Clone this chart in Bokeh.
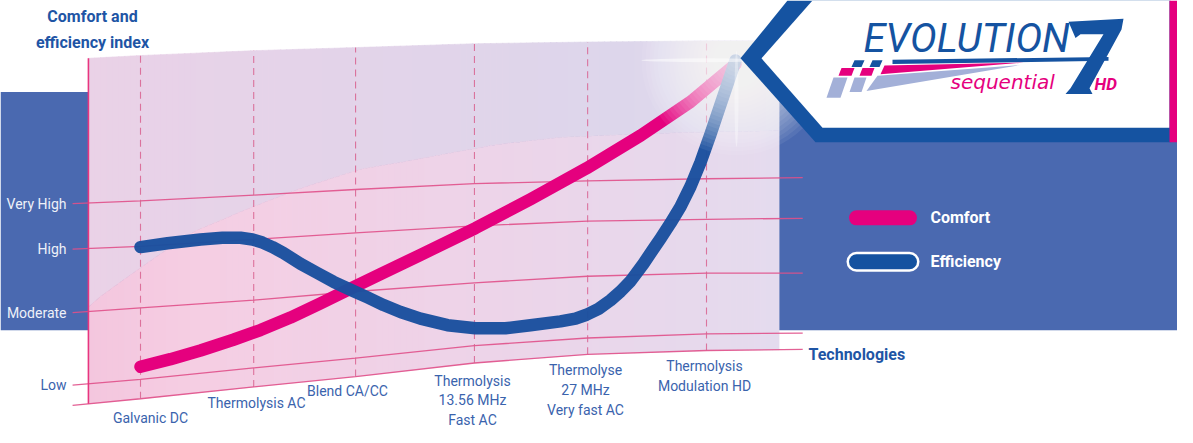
import numpy as np
from bokeh.plotting import figure
from bokeh.models import Range1d
from bokeh.core.properties import value
from bokeh.embed import file_html
from bokeh.resources import INLINE

# ---------------- data ----------------
technologies = ["Galvanic DC", "Thermolysis AC", "Blend CA/CC",
                "Thermolysis\n13.56 MHz\nFast AC",
                "Thermolyse\n27 MHz\nVery fast AC",
                "Thermolysis\nModulation HD"]
tech_x = [0.0, 1.0, 1.9, 2.95, 3.95, 5.0]

levels = ["Low", "Moderate", "High", "Very High"]
level_index = [5.8, 26.7, 45.0, 58.1]

comfort_x = [0.0, 0.265, 0.53, 0.82, 1.06, 1.325, 1.59, 1.855, 2.12, 2.47,
             2.96, 3.445, 3.94, 4.42, 4.86, 5.256]
comfort_y = [11.1, 13.3, 15.8, 18.9, 21.7, 25.3, 29.4, 33.6, 37.8, 43.3,
             51.1, 59.4, 68.3, 77.8, 87.5, 98.3]

efficiency_x = [0.0, 0.239, 0.53, 0.724, 0.883, 0.989, 1.078, 1.166, 1.263, 1.413,
                1.564, 1.705, 1.855, 2.005, 2.147, 2.297, 2.473, 2.712, 2.959, 3.224,
                3.445, 3.71, 3.843, 3.94, 4.046, 4.152, 4.24, 4.329, 4.443, 4.523,
                4.594, 4.682, 4.77, 4.859, 4.947, 5.035, 5.124, 5.256]
efficiency_y = [45.6, 46.7, 47.8, 48.3, 48.3, 47.8, 46.9, 45.6, 43.9, 40.8,
                38.1, 35.6, 33.3, 31.1, 28.9, 26.9, 25.0, 23.1, 22.2, 22.2,
                23.1, 24.2, 25.0, 26.1, 27.8, 30.3, 32.8, 35.8, 40.8, 44.7,
                48.1, 52.5, 57.2, 63.1, 70.0, 78.1, 86.7, 99.4]

# perspective grid: index value of each level line along the technology axis
grid_t = [-0.6, 0.0, 1.0, 1.9, 2.95, 3.95, 5.0, 5.85]
grid_lines = [
    [0.0, 1.9, 5.3, 8.3, 12.2, 14.7, 15.8, 16.1],       # technologies axis
    [5.8, 7.5, 10.8, 13.6, 17.2, 19.4, 20.6, 20.8],     # Low
    [26.7, 28.1, 30.3, 32.8, 35.3, 37.2, 38.1, 38.1],   # Moderate
    [45.0, 45.8, 47.8, 49.7, 51.7, 53.1, 53.6, 53.9],   # High
    [58.1, 58.9, 60.6, 62.2, 63.9, 64.7, 65.3, 65.6],   # Very High
]
panel_top_t = [-0.46, 0.0, 1.0, 1.9, 2.95, 3.95, 5.0, 5.65]
panel_top_v = [100.0, 100.8, 102.2, 103.1, 104.2, 104.7, 105.0, 105.0]

# ---------------- figure ----------------
W, H = 1177, 427
# default ranges: design space of the artwork (decoration)
p = figure(width=W, height=H, x_range=Range1d(0, 1177), y_range=Range1d(443, 0),
           output_backend="svg", toolbar_location=None, min_border=0,
           x_axis_location=None, y_axis_location=None)
p.grid.visible = False
p.outline_line_color = None
p.background_fill_color = "white"
p.border_fill_color = "white"

PX0, PXS = 140.0, 113.2     # technology scale
PY0, PYS = 420.0, 3.6       # index scale
p.extra_x_ranges = {"tech": Range1d((0 - PX0) / PXS, (1177 - PX0) / PXS)}
p.extra_y_ranges = {"idx": Range1d((PY0 - 443) / PYS, (PY0 - 0) / PYS)}
D = dict(x_range_name="tech", y_range_name="idx")

def t2px(t):
    return PX0 + PXS * np.asarray(t, dtype=float)

def v2py(v):
    return PY0 - PYS * np.asarray(v, dtype=float)

BAND = "#4a69b0"
PINK = "#e5007e"
BLUE = "#1a4f9e"
DEEP = "#1553a1"
LABEL = "#3a63ad"
FONT = value("Roboto")

# blue band
p.quad(left=[0], right=[1193], top=[95], bottom=[342], fill_color=BAND, line_color=None)

# ---------------- panel with gradient ----------------
tp_x = t2px(panel_top_t); tp_y = v2py(panel_top_v)
bt_x = t2px(grid_t); bt_y = v2py(grid_lines[0])
arc_x = [88, 100, 150, 193, 250, 300, 360, 400, 493, 560, 680, 780]
arc_y = [318, 307, 270, 240, 215, 195, 175, 168, 150, 142, 137, 135]

def lerp_color(x, stops):
    xs = [s[0] for s in stops]
    c = [int(round(np.interp(x, xs, [s[1][k] for s in stops]))) for k in range(3)]
    return "#%02x%02x%02x" % tuple(c)

up_stops = [(88, (234, 210, 231)), (300, (228, 211, 233)), (620, (221, 214, 235)), (780, (226, 221, 239))]
lo_stops = [(88, (244, 198, 222)), (200, (245, 206, 227)), (450, (238, 211, 232)), (780, (228, 219, 238))]

edges = np.arange(88, 781, 6.0)
xs_u, ys_u, cs_u, xs_l, ys_l, cs_l = [], [], [], [], [], []
for a, b in zip(edges[:-1], edges[1:]):
    b2 = min(b + 0.6, 780)
    ta, tb = np.interp([a, b2], tp_x, tp_y)
    aa, ab = np.interp([a, b2], arc_x, arc_y)
    ba, bb = np.interp([a, b2], bt_x, bt_y)
    m = 0.5 * (a + b)
    xs_u.append([a, b2, b2, a]); ys_u.append([ta, tb, ab, aa]); cs_u.append(lerp_color(m, up_stops))
    xs_l.append([a, b2, b2, a]); ys_l.append([aa, ab, bb, ba]); cs_l.append(lerp_color(m, lo_stops))
p.patches(xs_u, ys_u, fill_color=cs_u, line_color=cs_u, line_width=0.6)
p.patches(xs_l, ys_l, fill_color=cs_l, line_color=cs_l, line_width=0.6)

# ---------------- grid ----------------
for g in grid_lines:
    p.line(grid_t, g, line_color="#e0508a", line_width=1.3, line_alpha=0.9, **D)

y_bot = np.interp(tech_x, grid_t, grid_lines[0])
y_top = np.interp(tech_x, panel_top_t, panel_top_v)
p.segment(x0=tech_x, y0=list(y_bot), x1=tech_x, y1=list(y_top),
          line_color="#d8628f", line_width=1.1, line_dash="7 5", line_alpha=0.85, **D)
# index axis
ax_t = panel_top_t[0]
p.segment(x0=[ax_t], y0=[float(np.interp(ax_t, grid_t, grid_lines[0]))], x1=[ax_t], y1=[panel_top_v[0]],
          line_color="#e8357f", line_width=1.6, **D)

# ---------------- series ----------------
p.line(comfort_x, comfort_y, line_color=PINK, line_width=12.5, line_cap="round", line_join="round", **D)
p.line(efficiency_x, efficiency_y, line_color=BLUE, line_width=12.5, line_cap="round", line_join="round",
       line_alpha=0.97, **D)

# glow where both curves meet
gx, gy = 736, 62
for r in np.linspace(95, 4, 24):
    p.circle(x=[gx], y=[gy], radius=float(r), fill_color="white", fill_alpha=0.065, line_color=None)
p.ellipse(x=[gx - 30], y=[gy], width=130, height=4, fill_color="white", fill_alpha=0.5, line_color=None)
p.ellipse(x=[gx], y=[gy + 40], width=4, height=100, fill_color="white", fill_alpha=0.35, line_color=None)

# ---------------- logo box ----------------
p.patch([787, 740, 815, 1170, 1170], [0, 60, 147, 147, 0], fill_color=DEEP, line_color=None)
p.patch([812, 761, 822, 1169, 1169], [0, 60, 132, 132, 0], fill_color="white", line_color=None)
p.quad(left=[1169], right=[1185], top=[0], bottom=[147], fill_color=PINK, line_color=None)

# speed stripes
p.patch([892, 1108, 1108, 892], [61.5, 58.5, 62.5, 66], fill_color=DEEP, line_color=None)
p.patch([884, 1023, 880], [67.5, 64.5, 76.5], fill_color=PINK, line_color=None)
p.patch([877, 1020, 866], [78, 67, 94], fill_color="#a3b0d8", line_color=None)
p.patches([[851, 861, 864, 854], [869, 879, 882, 872]], [[69, 69, 62, 62], [69, 69, 62, 62]],
          fill_color=DEEP, line_color=None)
p.patches([[838, 851, 854, 841], [859, 871, 874, 862]], [[78, 78, 70, 70], [78, 78, 70, 70]],
          fill_color=PINK, line_color=None)
p.patches([[826, 840, 847, 833], [849, 861, 866, 854]], [[101, 101, 80, 80], [95, 95, 80, 80]],
          fill_color="#a3b0d8", line_color=None)

# stylised "7" of the logo
p.patch([1068, 1123, 1121, 1089, 1092, 1065, 1070, 1103, 1080, 1075],
        [22, 19, 30, 91, 97, 97, 91, 35, 35, 39], fill_color=DEEP, line_color=None)

p.text(x=[863], y=[15], text=["EVOLUTION"], text_font=FONT, text_font_style="italic",
       text_font_size=value("40px"), text_color=DEEP, text_baseline="top", text_align="left")
p.text(x=[950], y=[72], text=["sequential"], text_font=value("DejaVu Sans"), text_font_style="italic",
       text_font_size=value("20px"), text_color=PINK, text_baseline="top", text_align="left")
p.text(x=[1094], y=[76], text=["HD"], text_font=FONT, text_font_style="bold italic",
       text_font_size=value("17px"), text_color=PINK, text_baseline="top", text_align="left")

# ---------------- legend ----------------
p.line([856, 909], [225.5, 225.5], line_color=PINK, line_width=15, line_cap="round")
p.line([856, 909], [271, 271], line_color="white", line_width=20, line_cap="round")
p.line([856, 909], [271, 271], line_color="#1452a0", line_width=15, line_cap="round")
p.text(x=[930, 930], y=[225, 271], text=["Comfort", "Efficiency"], text_font=FONT,
       text_font_style="bold", text_font_size=value("16px"), text_color="white",
       text_baseline="middle", text_align="left")

# ---------------- labels ----------------
p.text(x=[92], y=[7], text=["Comfort and\nefficiency index"], text_font=FONT, text_font_style="bold",
       text_font_size=value("16px"), text_color="#1e55a5", text_baseline="top", text_align="center",
       text_line_height=1.36)
p.text(x=[808], y=[367], text=["Technologies"], text_font=FONT, text_font_style="bold",
       text_font_size=value("16px"), text_color="#1e55a5", text_baseline="middle", text_align="left")

p.text(x=[(66 - PX0) / PXS] * 4, y=level_index, text=levels, text_font=FONT,
       text_font_size=value("14px"), text_color=[LABEL, "#eef1f8", "#eef1f8", "#eef1f8"],
       text_baseline="middle", text_align="right", **D)

lab_cx = [150, 256, 347, 472, 585, 704]
lab_top = [425, 409, 397, 386, 375, 371]
p.text(x=lab_cx, y=lab_top, text=technologies, text_font=FONT, text_font_size=value("14px"),
       text_color=LABEL, text_baseline="top", text_align="center", text_line_height=1.24)

open("out.html", "w").write(file_html(p, INLINE))
